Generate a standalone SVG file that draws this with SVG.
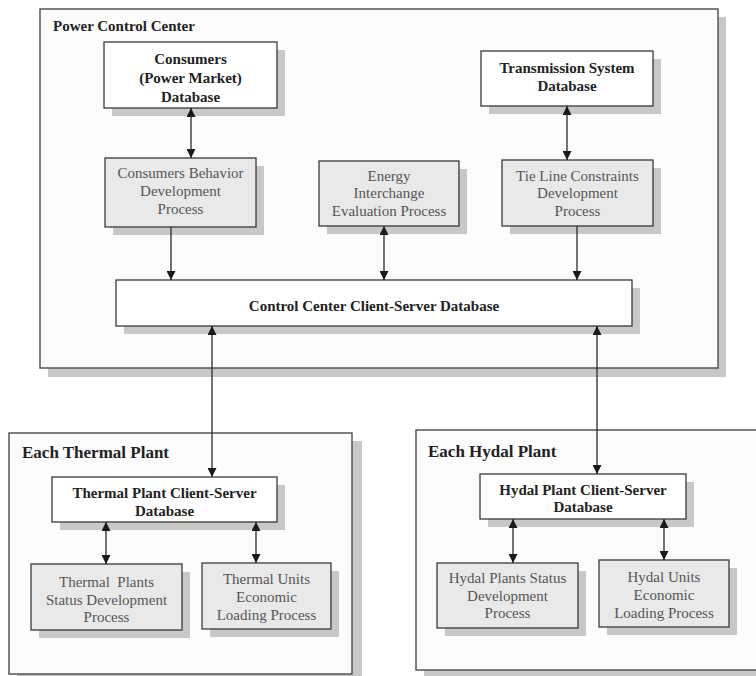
<svg xmlns="http://www.w3.org/2000/svg" width="756" height="676" viewBox="0 0 756 676">
<style>
text{font-family:"Liberation Serif","Times New Roman",serif;font-size:15px;text-anchor:middle}
.db{fill:#ffffff;stroke:#3a3a3a;stroke-width:1.3}
.proc{fill:#e9e9e9;stroke:#3a3a3a;stroke-width:1.3}
.grp{fill:#fcfcfc;stroke:#4a4a4a;stroke-width:1.4}
.sh{fill:#c8c8c8}
.dbt{font-weight:bold;fill:#222}
.pt{fill:#555}
.title{font-weight:bold;fill:#222;text-anchor:start}
.ln{stroke:#2a2a2a;stroke-width:1.3;fill:none}
</style>
<defs>
<marker id="ah" viewBox="0 0 10 10" refX="10" refY="5" markerWidth="9" markerHeight="9" markerUnits="userSpaceOnUse" orient="auto-start-reverse">
<path d="M0,0 L10,5 L0,10 z" fill="#1a1a1a"/>
</marker>
</defs>
<rect width="756" height="676" fill="#ffffff"/>

<g id="power-control-center">
<rect class="sh" x="48" y="17" width="678" height="360"/>
<rect class="grp" x="40" y="9" width="678" height="359"/>
<text class="title" x="53" y="31">Power Control Center</text>
</g>
<g id="thermal-plant">
<rect class="sh" x="17" y="441" width="345" height="241"/>
<rect class="grp" x="9" y="433" width="343" height="241"/>
<text class="title" x="22" y="458" style="font-size:17px">Each Thermal Plant</text>
</g>
<g id="hydal-plant">
<rect class="sh" x="424" y="438" width="340" height="240"/>
<rect class="grp" x="416" y="430" width="342" height="240"/>
<text class="title" x="428" y="457" style="font-size:17px">Each Hydal Plant</text>
</g>

<g id="consumers-db">
<rect class="sh" x="112" y="50" width="173" height="66"/>
<rect class="db" x="104" y="42" width="173" height="66"/>
<text class="dbt" x="190.5" y="64">Consumers</text>
<text class="dbt" x="190.5" y="83">(Power Market)</text>
<text class="dbt" x="190.5" y="102">Database</text>
</g>
<g id="transmission-db">
<rect class="sh" x="489" y="59" width="172" height="55"/>
<rect class="db" x="481" y="51" width="172" height="55"/>
<text class="dbt" x="567" y="73">Transmission System</text>
<text class="dbt" x="567" y="91">Database</text>
</g>
<g id="consumers-behavior">
<rect class="sh" x="113" y="166" width="151" height="69"/>
<rect class="proc" x="105" y="158" width="151" height="69"/>
<text class="pt" x="180.5" y="178">Consumers Behavior</text>
<text class="pt" x="180.5" y="196">Development</text>
<text class="pt" x="180.5" y="214">Process</text>
</g>
<g id="energy-interchange">
<rect class="sh" x="327" y="169" width="140" height="65"/>
<rect class="proc" x="319" y="161" width="140" height="65"/>
<text class="pt" x="389" y="181">Energy</text>
<text class="pt" x="389" y="198">Interchange</text>
<text class="pt" x="389" y="216">Evaluation Process</text>
</g>
<g id="tie-line">
<rect class="sh" x="510" y="168" width="151" height="66"/>
<rect class="proc" x="502" y="160" width="151" height="66"/>
<text class="pt" x="577.5" y="181">Tie Line Constraints</text>
<text class="pt" x="577.5" y="198">Development</text>
<text class="pt" x="577.5" y="216">Process</text>
</g>
<g id="control-center-db">
<rect class="sh" x="124" y="288" width="516" height="46"/>
<rect class="db" x="116" y="280" width="516" height="46"/>
<text class="dbt" x="374" y="311">Control Center Client-Server Database</text>
</g>

<g id="thermal-db">
<rect class="sh" x="60" y="485" width="225" height="45"/>
<rect class="db" x="52" y="477" width="225" height="45"/>
<text class="dbt" x="164.5" y="498">Thermal Plant Client-Server</text>
<text class="dbt" x="164.5" y="516">Database</text>
</g>
<g id="thermal-status">
<rect class="sh" x="39" y="572" width="151" height="66"/>
<rect class="proc" x="31" y="564" width="151" height="66"/>
<text class="pt" x="106.5" y="587" xml:space="preserve">Thermal  Plants</text>
<text class="pt" x="106.5" y="605">Status Development</text>
<text class="pt" x="106.5" y="622">Process</text>
</g>
<g id="thermal-units">
<rect class="sh" x="210" y="571" width="129" height="66"/>
<rect class="proc" x="202" y="563" width="129" height="66"/>
<text class="pt" x="266.5" y="584">Thermal Units</text>
<text class="pt" x="266.5" y="602">Economic</text>
<text class="pt" x="266.5" y="620">Loading Process</text>
</g>

<g id="hydal-db">
<rect class="sh" x="488" y="482" width="206" height="45"/>
<rect class="db" x="480" y="474" width="206" height="45"/>
<text class="dbt" x="583" y="495">Hydal Plant Client-Server</text>
<text class="dbt" x="583" y="512">Database</text>
</g>
<g id="hydal-status">
<rect class="sh" x="445" y="571" width="141" height="65"/>
<rect class="proc" x="437" y="563" width="141" height="65"/>
<text class="pt" x="507.5" y="583">Hydal Plants Status</text>
<text class="pt" x="507.5" y="601">Development</text>
<text class="pt" x="507.5" y="618">Process</text>
</g>
<g id="hydal-units">
<rect class="sh" x="607" y="568" width="130" height="67"/>
<rect class="proc" x="599" y="560" width="130" height="67"/>
<text class="pt" x="664" y="582">Hydal Units</text>
<text class="pt" x="664" y="600">Economic</text>
<text class="pt" x="664" y="618">Loading Process</text>
</g>

<g id="connectors">
<line class="ln" x1="191" y1="108" x2="191" y2="158" marker-start="url(#ah)" marker-end="url(#ah)"/>
<line class="ln" x1="567" y1="106" x2="567" y2="160" marker-start="url(#ah)" marker-end="url(#ah)"/>
<line class="ln" x1="171" y1="227" x2="171" y2="280" marker-end="url(#ah)"/>
<line class="ln" x1="384" y1="226" x2="384" y2="280" marker-start="url(#ah)" marker-end="url(#ah)"/>
<line class="ln" x1="577" y1="226" x2="577" y2="280" marker-end="url(#ah)"/>
<line class="ln" x1="212" y1="326" x2="212" y2="477" marker-start="url(#ah)" marker-end="url(#ah)"/>
<line class="ln" x1="597" y1="326" x2="597" y2="474" marker-start="url(#ah)" marker-end="url(#ah)"/>
<line class="ln" x1="106" y1="522" x2="106" y2="564" marker-start="url(#ah)" marker-end="url(#ah)"/>
<line class="ln" x1="256" y1="522" x2="256" y2="563" marker-start="url(#ah)" marker-end="url(#ah)"/>
<line class="ln" x1="513" y1="519" x2="513" y2="563" marker-start="url(#ah)" marker-end="url(#ah)"/>
<line class="ln" x1="664" y1="519" x2="664" y2="560" marker-start="url(#ah)" marker-end="url(#ah)"/>
</g>
</svg>
